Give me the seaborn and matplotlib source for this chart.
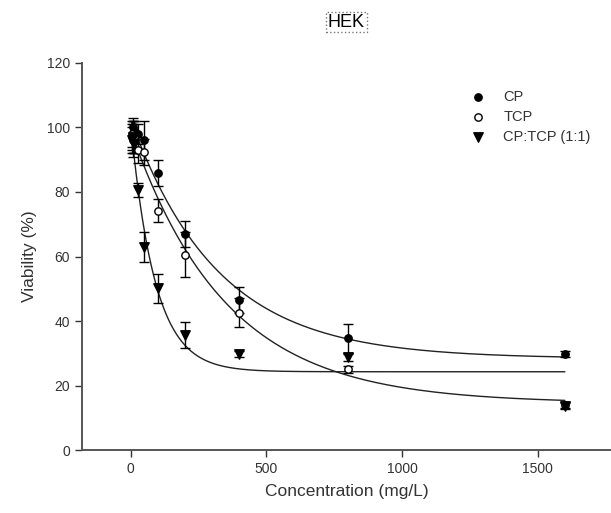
import numpy as np
import pandas as pd
import matplotlib
matplotlib.use("Agg")
import matplotlib.pyplot as plt
import seaborn as sns

# Concentrations (mg/L) and mean viability (%) with standard deviations
conc = [3.125, 6.25, 12.5, 25, 50, 100, 200, 400, 800, 1600]
cp = [97.0, 100.0, 99.0, 98.0, 96.0, 85.8, 66.9, 46.5, 34.6, 29.8]
cp_sd = [4.0, 3.0, 3.0, 3.0, 6.0, 4.0, 4.0, 4.0, 4.5, 1.0]
tcp = [98.0, 96.0, 97.0, 93.0, 92.5, 74.2, 60.5, 42.6, 25.0, 14.0]
tcp_sd = [4.0, 5.0, 5.0, 4.0, 4.0, 3.6, 7.0, 4.4, 1.0, 1.0]
mix = [96.0, 97.0, 95.0, 80.6, 63.0, 50.1, 35.7, 29.8, 28.7, 13.6]
mix_sd = [4.0, 5.0, 3.0, 2.3, 4.6, 4.6, 4.0, 1.0, 1.0, 1.0]

labels = ["CP", "TCP", "CP:TCP (1:1)"]
x_ticks = [0, 500, 1000, 1500]
y_ticks = [0, 20, 40, 60, 80, 100, 120]


def fit_decay(x, y):
    """Three-parameter exponential decay y = y0 + a*exp(-b*x), least squares."""
    x = np.asarray(x, float)
    y = np.asarray(y, float)
    best = None
    for b in np.logspace(-4, -0.5, 3000):
        A = np.column_stack([np.ones_like(x), np.exp(-b * x)])
        coef, *_ = np.linalg.lstsq(A, y, rcond=None)
        sse = float(((A @ coef - y) ** 2).sum())
        if best is None or sse < best[0]:
            best = (sse, coef[0], coef[1], b)
    return best[1:]


sns.set_style("ticks")
plt.rcParams["font.family"] = ["Liberation Sans", "DejaVu Sans"]

fig = plt.figure(figsize=(6.11, 5.13), dpi=100)
ax = fig.add_axes([0.1342, 0.1228, 0.8658, 0.7544])

series = [
    (cp, cp_sd, dict(marker="o", facecolor="black", s=28)),
    (tcp, tcp_sd, dict(marker="o", facecolor="white", s=28)),
    (mix, mix_sd, dict(marker="v", facecolor="black", s=46)),
]

xs = np.linspace(min(conc), max(conc), 600)
for (vals, sd, st), lab in zip(series, labels):
    y0, a, b = fit_decay(conc, vals)
    curve = pd.DataFrame({"x": xs, "y": y0 + a * np.exp(-b * xs)})
    sns.lineplot(data=curve, x="x", y="y", ax=ax, color="#222222", lw=1.0, zorder=2)
    ax.errorbar(conc, vals, yerr=sd, fmt="none", ecolor="black", elinewidth=1.0,
                capsize=3.6, capthick=1.0, zorder=3)
    df = pd.DataFrame({"x": conc, "y": vals})
    sns.scatterplot(data=df, x="x", y="y", ax=ax, marker=st["marker"], s=st["s"],
                    color=st["facecolor"], edgecolor="black", linewidth=1.0,
                    zorder=4, label=lab)

ax.set_xlim(-180, 1770)
ax.set_ylim(0, 120)
ax.set_xticks(x_ticks)
ax.set_yticks(y_ticks)
ax.set_xlabel("Concentration (mg/L)", fontsize=12.5, color="#333333", labelpad=6)
ax.set_ylabel("Viability (%)", fontsize=12.5, color="#333333", labelpad=7)
ax.tick_params(axis="both", labelsize=10, colors="#333333", length=5, width=1,
               direction="out")
for side in ["top", "right"]:
    ax.spines[side].set_visible(False)
for side in ["left", "bottom"]:
    ax.spines[side].set_color("#555555")
    ax.spines[side].set_linewidth(1.4)

leg = ax.legend(loc="upper left", bbox_to_anchor=(0.771, 0.825),
                bbox_transform=fig.transFigure, frameon=False, fontsize=10.5,
                handlelength=1.0, handletextpad=1.2, labelspacing=0.42,
                borderpad=0, borderaxespad=0)
for t in leg.get_texts():
    t.set_color("#333333")

fig.text(0.567, 0.957, "HEK", ha="center", va="center", fontsize=13, color="black",
         bbox=dict(boxstyle="square,pad=0.1", facecolor="none", edgecolor="#777777",
                   linestyle=":", linewidth=1.0))

fig.savefig("out.png", dpi=100)
